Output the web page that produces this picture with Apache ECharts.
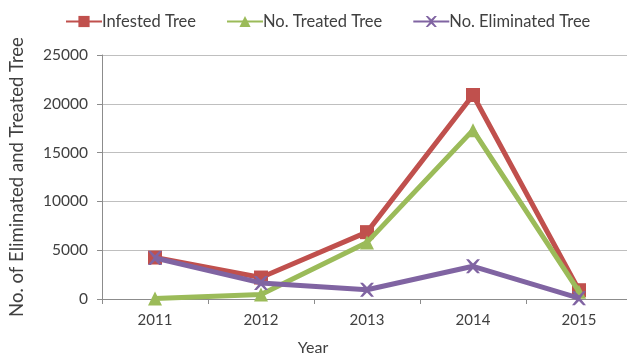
<!DOCTYPE html>
<html><head><meta charset="utf-8">
<script src="https://cdn.jsdelivr.net/npm/echarts@6/dist/echarts.min.js"></script>
<style>html,body{margin:0;padding:0;background:#fff}#c{width:627px;height:356px}</style>
</head><body><div id="c"></div>
<script>
const years = ['2011','2012','2013','2014','2015'];
const infested = [4250, 2200, 6850, 20900, 900];
const treated = [50, 450, 5800, 17300, 750];
const eliminated = [4200, 1650, 950, 3350, 80];
const yTicks = {min: 0, max: 25000, interval: 5000};

const font = 'Lato';
const txt = '#404040';
const chart = echarts.init(document.getElementById('c'));
chart.setOption({
  animation: false,
  textStyle: {fontFamily: font},
  legend: {
    top: 8, left: 60, itemGap: 30, itemWidth: 36, itemHeight: 14,
    textStyle: {fontFamily: font, fontSize: 16.5, color: txt, padding: [0,0,0,-5]},
    data: ['Infested Tree','No. Treated Tree','No. Eliminated Tree']
  },
  grid: {left: 102, top: 55, width: 530, height: 244, outerBoundsMode: 'none', containLabel: false},
  xAxis: {
    type: 'category', data: years, boundaryGap: true,
    name: 'Year', nameLocation: 'middle', nameGap: 41,
    nameTextStyle: {fontFamily: font, fontSize: 16, color: txt, padding: [0, 108, 0, 0]},
    axisLine: {lineStyle: {color: '#8c8c8c', width: 1}},
    axisTick: {show: true, alignWithLabel: false, length: 5, lineStyle: {color: '#8c8c8c'}},
    axisLabel: {fontFamily: font, fontSize: 15, color: txt, margin: 14}
  },
  yAxis: {
    type: 'value', min: yTicks.min, max: yTicks.max, interval: yTicks.interval,
    name: 'No. of Eliminated and Treated Tree', nameLocation: 'middle', nameGap: 75,
    nameTextStyle: {fontFamily: font, fontSize: 18.5, color: txt},
    axisLine: {show: true, lineStyle: {color: '#8c8c8c', width: 1}},
    axisTick: {show: true, length: 5, lineStyle: {color: '#8c8c8c'}},
    axisLabel: {fontFamily: font, fontSize: 15.5, color: txt, margin: 14, formatter: v => String(v)},
    splitLine: {lineStyle: {color: '#bfbfbf', width: 1}}
  },
  series: [
    {name: 'Infested Tree', type: 'line', data: infested, color: '#c0504d',
     lineStyle: {width: 5}, symbol: 'rect', symbolSize: 14, z: 3},
    {name: 'No. Treated Tree', type: 'line', data: treated, color: '#9bbb59',
     lineStyle: {width: 5}, symbol: 'triangle', symbolSize: 14, z: 4},
    {name: 'No. Eliminated Tree', type: 'line', data: eliminated, color: '#8064a2',
     lineStyle: {width: 5}, symbol: 'path://M0,0L2,0L5,3L8,0L10,0L6,5L10,10L8,10L5,7L2,10L0,10L4,5Z', symbolSize: 14, z: 5}
  ]
});
</script></body></html>
